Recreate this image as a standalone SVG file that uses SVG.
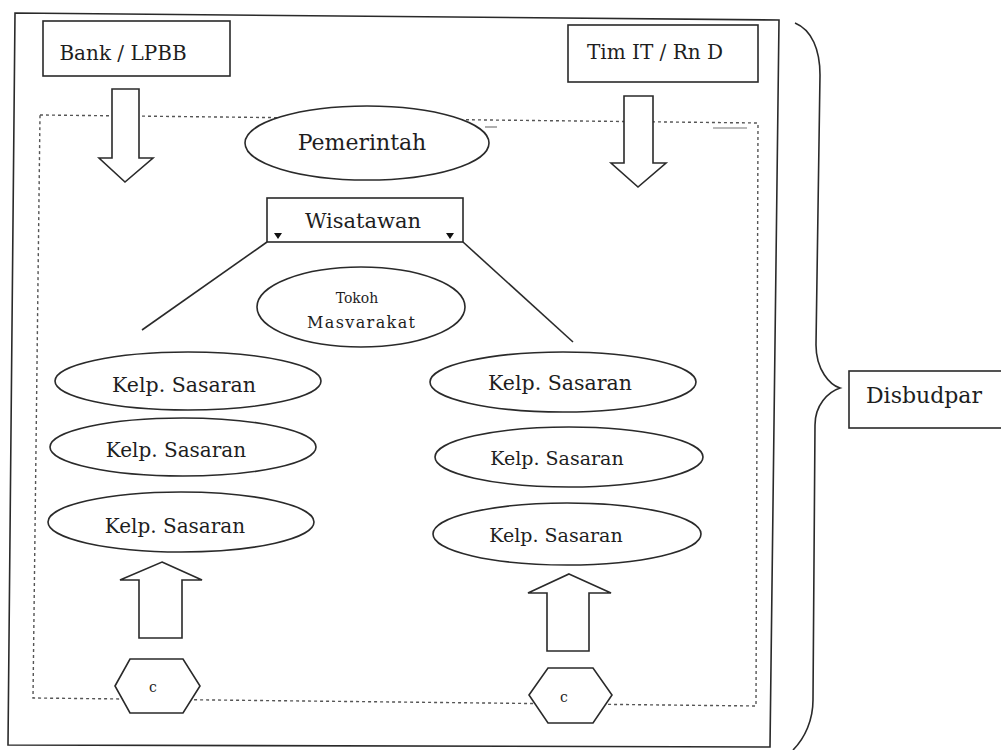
<svg xmlns="http://www.w3.org/2000/svg" width="1001" height="750" viewBox="0 0 1001 750">
<style>
  .ln{fill:none;stroke:#2a2a2a;stroke-width:1.6}
  .shape{fill:#fff;stroke:#2a2a2a;stroke-width:1.6}
  .dot{fill:none;stroke:#555;stroke-width:1.4;stroke-dasharray:3,3}
  .t{font-family:"DejaVu Serif","Liberation Serif",serif;fill:#1e1e1e;text-anchor:middle}
</style>
<rect width="1001" height="750" fill="#fff"/>
<!-- outer frame -->
<polygon id="outer-frame" class="ln" points="15,13 779,20 770,747 8,745"/>
<!-- inner dotted frame -->
<polygon id="inner-frame" class="dot" points="40,115 758,123 756,706 33,698"/>
<line x1="485" y1="127" x2="497" y2="127" stroke="#777" stroke-width="1.2"/>
<line x1="713" y1="128" x2="747" y2="128" stroke="#777" stroke-width="1.2"/>
<!-- brace -->
<path id="brace" class="ln" d="M795,23 C812,30 820,50 820,75 L816,345 C816,370 830,385 840,388 C828,392 815,405 815,425 L813,700 C813,720 805,738 793,750"/>

<g id="connectors">
  <polygon class="shape" points="112,89 139,89 139,158 153,158 125,182 99,158 112,158"/>
  <polygon class="shape" points="624,96 653,96 653,163 666,163 638,187 611,163 624,163"/>
  <polygon class="shape" points="162,562 202,580 182,580 182,638 139,638 139,580 120,580"/>
  <polygon class="shape" points="569,574 611,593 589,593 589,651 547,651 547,593 528,593"/>
  <line class="ln" x1="267" y1="242" x2="142" y2="330"/>
  <line class="ln" x1="463" y1="242" x2="573" y2="342"/>
</g>

<g id="bank">
  <rect class="shape" x="43" y="21" width="187" height="55"/>
  <text class="t" x="123" y="60" font-size="20">Bank / LPBB</text>
</g>
<g id="timit">
  <rect class="shape" x="568" y="25" width="190" height="57"/>
  <text class="t" x="655" y="59" font-size="20">Tim IT / Rn D</text>
</g>
<g id="pemerintah">
  <ellipse class="shape" cx="367" cy="143" rx="122" ry="37"/>
  <text class="t" x="362" y="150" font-size="22">Pemerintah</text>
</g>
<g id="wisatawan">
  <rect class="shape" x="267" y="198" width="196" height="44"/>
  <text class="t" x="363" y="228" font-size="21">Wisatawan</text>
  <path d="M274,233 L282,233 L278,239 z" fill="#111"/>
  <path d="M446,233 L454,233 L450,239 z" fill="#111"/>
</g>
<g id="tokoh">
  <ellipse class="shape" cx="361" cy="307" rx="104" ry="40"/>
  <text class="t" x="357" y="303" font-size="14">Tokoh</text>
  <text class="t" x="361" y="328" font-size="16" textLength="108">Masvarakat</text>
</g>
<g id="kelp-l1">
  <ellipse class="shape" cx="188" cy="381" rx="133" ry="29"/>
  <text class="t" x="184" y="392" font-size="20.5">Kelp. Sasaran</text>
</g>
<g id="kelp-l2">
  <ellipse class="shape" cx="183" cy="447" rx="133" ry="29"/>
  <text class="t" x="176" y="457" font-size="20">Kelp. Sasaran</text>
</g>
<g id="kelp-l3">
  <ellipse class="shape" cx="181" cy="522" rx="133" ry="30"/>
  <text class="t" x="175" y="533" font-size="20">Kelp. Sasaran</text>
</g>
<g id="kelp-r1">
  <ellipse class="shape" cx="563" cy="382" rx="133" ry="30"/>
  <text class="t" x="560" y="390" font-size="20.5">Kelp. Sasaran</text>
</g>
<g id="kelp-r2">
  <ellipse class="shape" cx="569" cy="457" rx="134" ry="30"/>
  <text class="t" x="557" y="465" font-size="19">Kelp. Sasaran</text>
</g>
<g id="kelp-r3">
  <ellipse class="shape" cx="567" cy="534" rx="134" ry="31"/>
  <text class="t" x="556" y="542" font-size="19">Kelp. Sasaran</text>
</g>
<g id="hex-left">
  <polygon class="shape" points="115,686 130,659 183,659 200,686 183,713 130,713"/>
  <text class="t" x="153" y="692" font-size="14">c</text>
</g>
<g id="hex-right">
  <polygon class="shape" points="529,695 548,668 593,668 612,695 593,723 548,723"/>
  <text class="t" x="564" y="702" font-size="14">c</text>
</g>
<g id="disbudpar">
  <rect class="shape" x="849" y="371" width="160" height="57"/>
  <text class="t" x="924" y="403" font-size="22">Disbudpar</text>
</g>
</svg>
